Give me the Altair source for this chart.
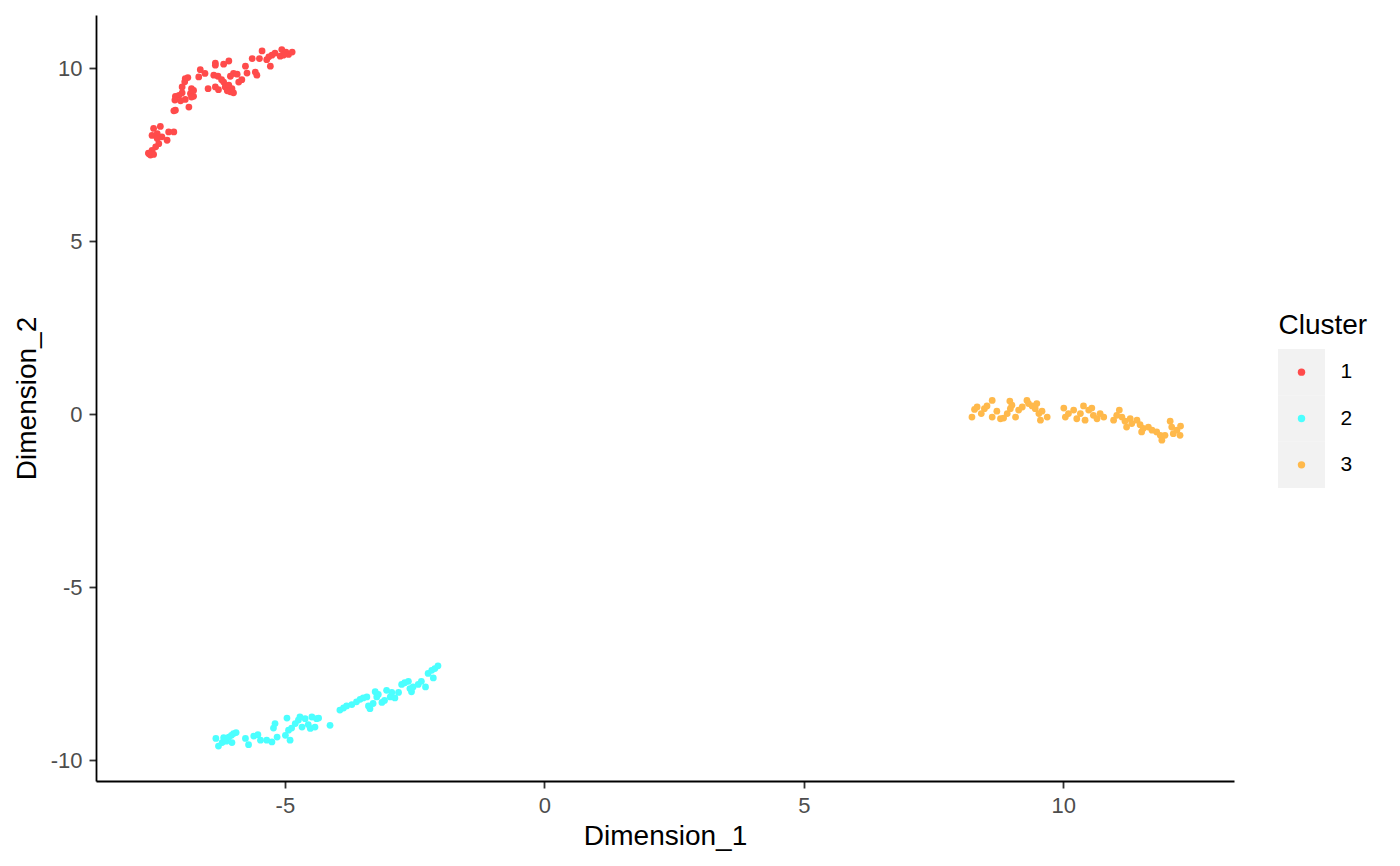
import altair as alt
import pandas as pd

CLUSTERS = ["1", "2", "3"]
COLORS = ["#FF4B4B", "#4BFFFF", "#FFB94B"]

C1_X = [-5.06, -4.98, -4.93, -4.86, -5.03, -5.09, -5.19, -5.25, -5.31, -5.35, -5.28, -5.44, -5.49, -5.63,
        -5.76, -5.73, -5.57, -5.54, -5.83, -5.89, -5.99, -5.92, -6.05, -6.08, -6.18, -6.34, -6.34, -6.37,
        -6.29, -6.22, -6.18, -6.15, -6.08, -6.02, -5.99, -6.05, -6.11, -6.28, -6.34, -6.48, -6.54, -6.63,
        -6.66, -6.76, -6.80, -6.82, -6.87, -6.92, -6.93, -6.98, -6.98, -7.04, -7.11, -7.12, -7.01, -6.92,
        -6.85, -7.11, -7.14, -6.76, -6.80, -7.53, -7.40, -7.56, -7.46, -7.37, -7.27, -7.24, -7.14, -7.43,
        -7.49, -7.56, -7.62, -7.59, -7.53, -7.63, -7.46]
C1_Y = [10.54, 10.47, 10.40, 10.47, 10.38, 10.35, 10.44, 10.38, 10.33, 10.25, 10.06, 10.50, 10.28, 10.28,
        10.06, 9.86, 9.89, 9.80, 9.67, 9.60, 9.85, 9.83, 9.77, 10.21, 10.12, 10.15, 10.09, 9.80,
        9.77, 9.67, 9.60, 9.46, 9.51, 9.41, 9.29, 9.32, 9.35, 9.38, 9.46, 9.41, 9.85, 9.96,
        9.75, 9.36, 9.41, 9.27, 9.73, 9.70, 9.61, 9.46, 9.29, 9.22, 9.19, 9.08, 9.06, 9.10,
        8.88, 8.79, 8.77, 9.19, 9.17, 8.26, 8.32, 8.06, 8.11, 8.02, 7.92, 8.16, 8.16, 7.82,
        7.73, 7.63, 7.53, 7.49, 7.51, 7.55, 7.97]

C2_X = [-6.33, -6.28, -6.21, -6.18, -6.13, -6.08, -6.03, -5.99, -5.94, -6.02, -5.76, -5.70, -5.60, -5.52,
        -5.47, -5.35, -5.25, -5.22, -5.19, -5.15, -4.99, -4.96, -4.93, -4.90, -4.87, -4.80, -4.74, -4.71,
        -4.67, -4.61, -4.55, -4.51, -4.48, -4.42, -4.39, -4.35, -4.13,
        -3.94, -3.87, -3.81, -3.71, -3.62, -3.55, -3.49, -3.42, -3.39, -3.36, -3.30, -3.26, -3.23, -3.20,
        -3.13, -3.08, -3.04, -2.97, -2.94, -2.88, -2.81, -2.75, -2.69, -2.62, -2.59, -2.56, -2.53, -2.43,
        -2.37, -2.29, -2.24, -2.17, -2.11, -2.05, -2.14]
C2_Y = [-9.37, -9.59, -9.49, -9.35, -9.45, -9.33, -9.28, -9.23, -9.20, -9.49, -9.37, -9.55, -9.30, -9.26,
        -9.42, -9.42, -9.47, -9.07, -8.94, -9.33, -9.28, -8.78, -9.13, -9.42, -9.07, -8.94, -8.84, -8.75,
        -9.04, -8.80, -8.97, -9.08, -8.75, -9.04, -8.80, -8.78, -8.99,
        -8.55, -8.49, -8.43, -8.39, -8.31, -8.24, -8.20, -8.17, -8.43, -8.51, -8.36, -8.02, -8.17, -8.10,
        -8.33, -8.27, -7.98, -8.17, -8.04, -8.20, -8.04, -7.81, -7.76, -7.72, -7.93, -8.02, -7.88, -7.81,
        -7.72, -7.88, -7.49, -7.40, -7.35, -7.27, -7.62]

C3_X = [8.24, 8.29, 8.34, 8.42, 8.48, 8.53, 8.63, 8.63, 8.72, 8.79, 8.85, 8.92, 8.97, 8.98, 9.01, 9.08,
        9.14, 9.21, 9.30, 9.33, 9.40, 9.46, 9.49, 9.53, 9.56, 9.59, 9.69, 10.01, 10.04, 10.10, 10.20,
        10.26, 10.33, 10.39, 10.42, 10.49, 10.55, 10.58, 10.65, 10.71, 10.78, 10.97, 11.03, 11.08, 11.13,
        11.19, 11.22, 11.29, 11.32, 11.42, 11.48, 11.51, 11.54, 11.64, 11.71, 11.80, 11.87, 11.90, 11.96,
        12.06, 12.09, 12.12, 12.19, 12.25, 12.26]
C3_Y = [-0.08, 0.14, 0.21, 0.02, 0.16, 0.24, 0.40, -0.08, 0.09, -0.13, -0.11, 0.02, 0.38, 0.16, 0.26, -0.08,
        0.12, 0.21, 0.40, 0.31, 0.24, 0.16, 0.31, 0.02, -0.17, 0.09, -0.08, 0.18, -0.08, 0.02, 0.12,
        -0.13, 0.02, 0.24, -0.17, 0.12, 0.18, -0.03, -0.13, 0.02, -0.08, -0.17, -0.03, 0.12, -0.08,
        -0.20, -0.37, -0.13, -0.27, -0.17, -0.30, -0.51, -0.41, -0.37, -0.46, -0.51, -0.61, -0.75, -0.61,
        -0.20, -0.37, -0.56, -0.46, -0.61, -0.34]

X_TICKS = [-5, 0, 5, 10]
Y_TICKS = [-10, -5, 0, 5, 10]
X_DOMAIN = [-8.64, 13.29]
Y_DOMAIN = [-10.60, 11.54]

FONT = "Liberation Sans"
W, H = 1138, 766
LEG_W = 47
LEG_RANGE = [334, 473]

frames = []
for cl, xs, ys in [("1", C1_X, C1_Y), ("2", C2_X, C2_Y), ("3", C3_X, C3_Y)]:
    frames.append(pd.DataFrame({"Dimension_1": xs, "Dimension_2": ys, "Cluster": cl}))
df = pd.concat(frames, ignore_index=True)

color_scale = alt.Scale(domain=CLUSTERS, range=COLORS)

axis_common = dict(
    grid=False, domainColor="black", domainWidth=1.8, tickColor="#333333", tickWidth=1.8,
    tickSize=7, labelFont=FONT, labelFontSize=22, labelColor="#4D4D4D",
    titleFont=FONT, titleFontSize=28, titleFontWeight="normal", titleColor="black",
    labelExpr="'' + datum.value",
)

main = alt.Chart(df).mark_circle(size=46, opacity=1).encode(
    x=alt.X("Dimension_1:Q",
            scale=alt.Scale(domain=X_DOMAIN, nice=False, zero=False),
            axis=alt.Axis(values=X_TICKS, title="Dimension_1", labelPadding=7, titlePadding=6,
                          **axis_common)),
    y=alt.Y("Dimension_2:Q",
            scale=alt.Scale(domain=Y_DOMAIN, nice=False, zero=False),
            axis=alt.Axis(values=Y_TICKS, title="Dimension_2", labelPadding=7, titlePadding=9,
                          **axis_common)),
    color=alt.Color("Cluster:N", scale=color_scale, legend=None),
).properties(width=W, height=H)

leg_df = pd.DataFrame({"Cluster": CLUSTERS})
leg_y = alt.Y("Cluster:N",
              scale=alt.Scale(domain=CLUSTERS, range=LEG_RANGE, paddingInner=0, paddingOuter=0),
              axis=alt.Axis(orient="right", domain=False, ticks=False, grid=False,
                            labelPadding=15, labelFont=FONT, labelFontSize=21, labelColor="black",
                            title="Cluster", titleAngle=0, titleAlign="left",
                            titleBaseline="alphabetic", titleX=-LEG_W, titleY=318,
                            titleFont=FONT, titleFontSize=28, titleFontWeight="normal",
                            titleColor="black"))

leg_bg = alt.Chart(leg_df).mark_rect(color="#F2F2F2").encode(
    y=leg_y, x=alt.value(0), x2=alt.value(LEG_W))
leg_dots = alt.Chart(leg_df).mark_circle(size=55, opacity=1).encode(
    y=leg_y, x=alt.value(LEG_W / 2),
    color=alt.Color("Cluster:N", scale=color_scale, legend=None))
legend = alt.layer(leg_bg, leg_dots).properties(width=LEG_W, height=H)

chart = alt.hconcat(main, legend, spacing=44).configure_view(
    strokeWidth=0
).properties(padding={"left": 5, "top": 7, "right": 5, "bottom": 5})

chart.save("out.html", embed_options={"renderer": "svg", "actions": False})
